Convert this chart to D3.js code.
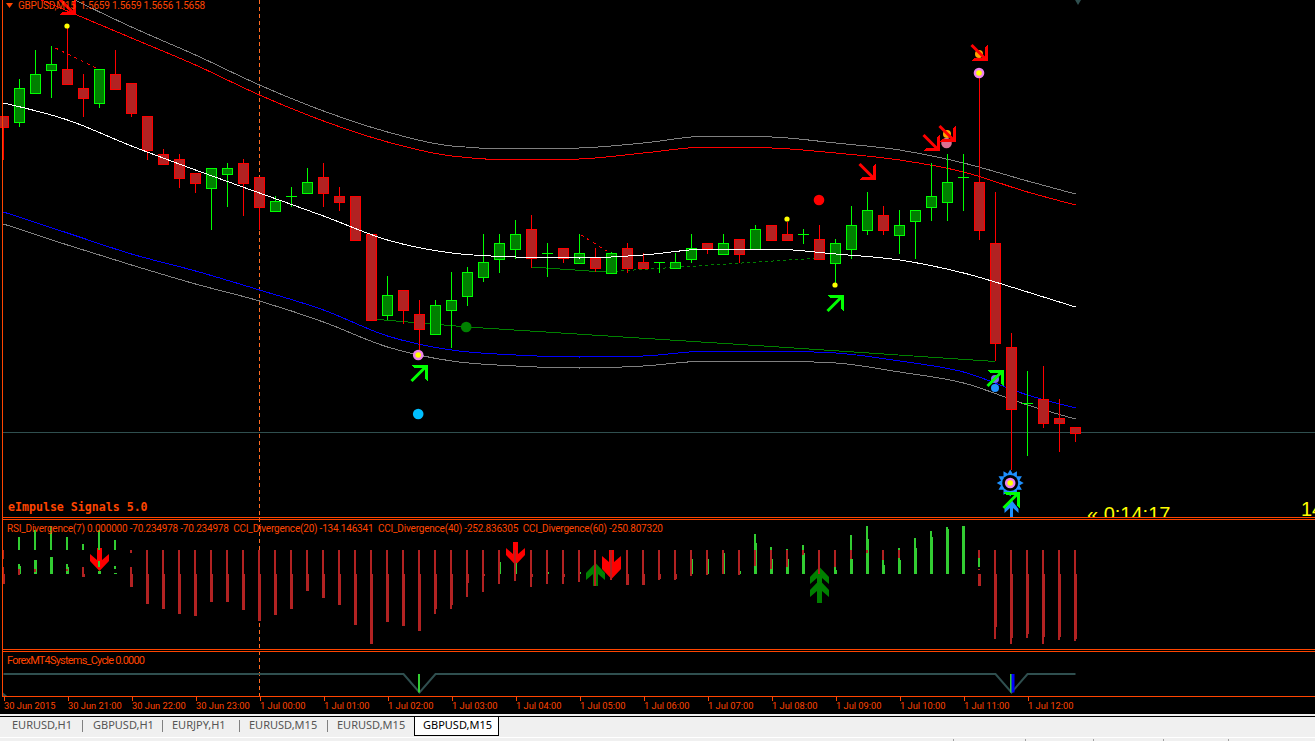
<!DOCTYPE html>
<html lang="en">
<head>
<meta charset="UTF-8">
<title>GBPUSD,M15</title>
<style>
	html, body { margin: 0; padding: 0; background: #f0f0f0; overflow: hidden; }
	svg { display: block; }
	text { white-space: pre; }
	.lbl { font-family: Roboto, sans-serif; font-size: 10px; fill: #ff4500; }
	.tick { font-family: Roboto, sans-serif; font-size: 9.3px; fill: #ff4500; }
	.tab { font-family: "Noto Sans", sans-serif; font-size: 11px; fill: #555; }
</style>
</head>
<body>
<svg id="chart" width="1315" height="741"></svg>
<script src="https://cdnjs.cloudflare.com/ajax/libs/d3/7.8.5/d3.min.js"></script>
<script>
// candles, 15 min bars from 30 Jun 20:00
let opens = [1.57214,1.57202,1.57260,1.57306,1.57308,1.57270,1.57240,1.57298,1.57280,1.57214,1.57138,1.57128,1.57100,1.57070,1.57098,1.57120,1.57092,1.57024,1.57054,1.57060,1.57092,1.57054,1.57054,1.56978,1.56816,1.56866,1.56818,1.56778,1.56826,1.56854,1.56892,1.56928,1.56948,1.56988,1.56940,1.56950,1.56920,1.56930,1.56900,1.56950,1.56922,1.56922,1.56910,1.56928,1.56960,1.56938,1.56968,1.56948,1.56996,1.56978,1.56978,1.56968,1.56920,1.56948,1.56986,1.57016,1.56976,1.57004,1.57032,1.57042,1.57092,1.57082,1.56960,1.56752,1.56640,1.56648,1.56610,1.56592]
let highs = [1.57214,1.57288,1.57346,1.57354,1.57390,1.57298,1.57308,1.57346,1.57280,1.57214,1.57148,1.57138,1.57100,1.57110,1.57120,1.57128,1.57092,1.57054,1.57072,1.57110,1.57120,1.57072,1.57054,1.56978,1.56894,1.56866,1.56846,1.56846,1.56902,1.56912,1.56978,1.56978,1.57006,1.57016,1.56960,1.56950,1.56978,1.56950,1.56942,1.56960,1.56940,1.56922,1.56940,1.56978,1.56960,1.56978,1.56968,1.56996,1.56996,1.57002,1.56988,1.56996,1.56968,1.57034,1.57062,1.57034,1.57026,1.57026,1.57120,1.57138,1.57138,1.57300,1.57062,1.56780,1.56704,1.56714,1.56648,1.56592]
let lows = [1.57126,1.57192,1.57260,1.57250,1.57278,1.57212,1.57230,1.57268,1.57212,1.57126,1.57118,1.57070,1.57060,1.56986,1.57032,1.57014,1.56986,1.57024,1.57032,1.57060,1.57032,1.57024,1.56966,1.56806,1.56806,1.56798,1.56746,1.56778,1.56750,1.56834,1.56882,1.56900,1.56928,1.56910,1.56892,1.56920,1.56920,1.56902,1.56900,1.56900,1.56910,1.56900,1.56910,1.56920,1.56938,1.56938,1.56920,1.56948,1.56966,1.56966,1.56958,1.56928,1.56880,1.56928,1.56976,1.56976,1.56938,1.56928,1.57004,1.57004,1.57024,1.56966,1.56724,1.56506,1.56534,1.56590,1.56542,1.56562]
let closes = [1.57192,1.57270,1.57298,1.57318,1.57278,1.57250,1.57308,1.57268,1.57220,1.57146,1.57118,1.57090,1.57080,1.57110,1.57110,1.57080,1.57032,1.57044,1.57054,1.57082,1.57060,1.57042,1.56966,1.56806,1.56856,1.56826,1.56788,1.56836,1.56846,1.56902,1.56922,1.56960,1.56978,1.56930,1.56940,1.56930,1.56940,1.56910,1.56940,1.56910,1.56910,1.56922,1.56922,1.56950,1.56950,1.56960,1.56938,1.56988,1.56966,1.56966,1.56978,1.56928,1.56960,1.56996,1.57026,1.56986,1.56996,1.57026,1.57054,1.57082,1.57092,1.56986,1.56760,1.56628,1.56640,1.56600,1.56600,1.56580]

// moving averages and bands, read at every 4th bar
let bandBars = [0,4,8,12,16,20,24,28,32,36,40,44,48,52,56,60,64,67]
let whiteMa = [1.57240,1.57206,1.57154,1.57106,1.57060,1.57014,1.56966,1.56940,1.56932,1.56930,1.56936,1.56948,1.56948,1.56938,1.56926,1.56900,1.56862,1.56832]
let redBand = [1.57478,1.57424,1.57370,1.57316,1.57256,1.57204,1.57162,1.57134,1.57126,1.57128,1.57140,1.57152,1.57150,1.57140,1.57126,1.57102,1.57062,1.57036]
let grayUpper = [1.57526,1.57454,1.57392,1.57336,1.57276,1.57224,1.57182,1.57154,1.57148,1.57150,1.57160,1.57174,1.57172,1.57160,1.57146,1.57120,1.57084,1.57058]
let blueBand = [1.57022,1.56980,1.56938,1.56904,1.56866,1.56826,1.56774,1.56746,1.56736,1.56732,1.56734,1.56744,1.56744,1.56740,1.56724,1.56702,1.56656,1.56630]
let grayLower = [1.56998,1.56956,1.56916,1.56878,1.56844,1.56802,1.56752,1.56724,1.56714,1.56710,1.56714,1.56724,1.56724,1.56720,1.56702,1.56680,1.56636,1.56608]

// trend lines
let greenTrendBars = [23,29,48,62]
let greenTrend = [1.56808,1.56792,1.56753,1.56723]
let shortGreenBars = [33,37.5]
let shortGreen = [1.56912,1.56902]
let dashGreenBars = [37.5,51]
let dashGreen = [1.56902,1.56930]
let dashRedBars = [3.25,5.9]
let dashRed = [1.57350,1.57308]
let dashRed2Bars = [36.1,37.9]
let dashRed2 = [1.56976,1.56940]

// signal markers
let seArrowBars = [4,54,58,59,61]
let seArrowPrices = [1.57432,1.57102,1.57160,1.57178,1.57340]
let neArrowBars = [26,52,62,63]
let neArrowPrices = [1.56700,1.56840,1.56690,1.56446]
let yellowBars = [4,49,52]
let yellowPrices = [1.57394,1.57008,1.56876]
let violetBars = [25.95,61,62.95]
let violetPrices = [1.56736,1.57300,1.56480]
let orangeBars = [59,61]
let orangePrices = [1.57178,1.57338]

// indicator window 1: RSI around upper zero, CCI around lower zero
let rsiUp = [0,10.4,16,19.2,10.4,4.8,16,8,0,0,0,0,0,0,0,0,0,0,0,0,0,0,0,0,0,0,0,0,0,0,0,0,0,0,0,0,0,0,0,0,0,0,0,0,0,0,0,12.8,2.4,0.8,4,0,0,12,19.2,0,1.6,9.6,15.2,18.4,19.2,0,0,0,0,0,0,0]
let rsiDown = [-7.2,0,0,0,0,0,0,0,-2.4,-42.4,-47.2,-51.2,-52.8,-41.6,-41.6,-48,-56.8,-52,-47.2,-32.8,-38.4,-44,-60,-75.2,-57.6,-60.8,-64.8,-51.2,-47.2,-37.6,-33.6,-27.2,-24.8,-29.6,-27.2,-27.2,-25.6,-28.8,-24,-28,-28,-24,-24,-20.8,-20,-19.2,-20,-12.8,-15.2,-13.6,-4,-19.2,-13.6,-7.2,-2.4,-8,-6.4,0,0,0,0,-6.4,-71.2,-75.2,-70.4,-75.2,-72,-72.8]
let cciFast = [0,40,56,68,40,0,12,0,0,0,0,0,0,0,0,0,0,0,0,0,0,0,0,0,0,0,0,0,0,0,0,0,0,0,0,0,0,0,0,0,0,0,0,0,0,0,0,96,96,96,96,0,96,96,96,96,96,96,96,96,96,0,0,0,0,0,0,0]
let cciSlow = [-40,32,56,68,28,-12,12,4,-52,-120,-140,-160,-168,-112,-112,-144,-188,-164,-140,-68,-96,-124,-204,-280,-192,-208,-228,-140,-124,-36,-8,48,44,-12,8,-12,8,0,0,-44,-44,-20,-20,60,60,84,12,124,60,60,84,0,16,60,140,36,56,104,148,180,192,-48,-212,-256,-240,-252,-252,-260]
let redPieceBars = [0,1,2,4,5,8,61]
let redPieceTop = [28,20,20,20,28,28,20]
let redPieceBottom = [0,-4,8,12,0,0,16]
let greenPieceBars = [6,7,61]
let greenPieceTop = [52,32,64]
let greenPieceBottom = [28,20,28]
let downArrowBars = [6,32,38]
let downArrowTops = [1.6,6.4,0]
let downArrowCount = [1,1,2]
let upArrowBars = [37,51]
let upArrowBottoms = [-28.8,-42.4]
let upArrowCount = [1,2]

// indicator window 2
let cycleValues = [100,100,100,100,100,100,100,100,100,100,100,100,100,100,100,100,100,100,100,100,100,100,100,100,100,100,0,100,100,100,100,100,100,100,100,100,100,100,100,100,100,100,100,100,100,100,100,100,100,100,100,100,100,100,100,100,100,100,100,100,100,100,100,0,100,100,100,100]
let cycleGreenBars = [26,63]
let cycleBlueBars = [63]

// time axis
let tickBars = [0,4,8,12,16,20,24,28,32,36,40,44,48,52,56,60,64]
let tickLabels = ["30 Jun 2015","30 Jun 21:00","30 Jun 22:00","30 Jun 23:00","1 Jul 00:00","1 Jul 01:00","1 Jul 02:00","1 Jul 03:00","1 Jul 04:00","1 Jul 05:00","1 Jul 06:00","1 Jul 07:00","1 Jul 08:00","1 Jul 09:00","1 Jul 10:00","1 Jul 11:00","1 Jul 12:00"]
let separatorBar = 16

let tabNames = ["EURUSD,H1","GBPUSD,H1","EURJPY,H1","EURUSD,M15","EURUSD,M15","GBPUSD,M15"]
let tabStarts = [12,93,172,249,337,423]
let tabDividers = [82,162,239,327]
let statusDividers = [953,1025,1093,1163,1228]

let orange = "#ff4500"
let svg = d3.select("#chart")
let x = d3.scaleLinear().domain([0,67]).range([3,1075])
let y = d3.scaleLinear().domain([1.5658,1.5730]).range([433,73])
let yRsi = d3.scaleLinear().domain([0,-72]).range([550,640])
let yCci = d3.scaleLinear().domain([0,-260]).range([574,639])
let yCycle = d3.scaleLinear().domain([0,100]).range([692.5,674])

function px(v) { return Math.round(v) + 0.5 }

svg.append("rect").attr("width",1315).attr("height",714).attr("fill","#000")
svg.append("clipPath").attr("id","mainClip").append("rect").attr("width",1315).attr("height",517)

// separator behind everything
svg.append("line")
	.attr("x1",px(x(separatorBar))).attr("x2",px(x(separatorBar)))
	.attr("y1",0).attr("y2",697)
	.attr("stroke","#ff6a20").attr("stroke-dasharray","4 3")

let main = svg.append("g").attr("clip-path","url(#mainClip)")

// bid line
main.append("line").attr("x1",3).attr("x2",1315)
	.attr("y1",px(y(1.5658))-1).attr("y2",px(y(1.5658))-1)
	.attr("stroke","#2f4f4f").attr("shape-rendering","crispEdges")

function drawLine(g, bars, vals, scale, color, width, dash) {
	let line = d3.line().x(d => x(d[0]) + 0.5).y(d => scale(d[1]))
	if (bars.length > 4) line.curve(d3.curveMonotoneX)
	return g.append("path")
		.attr("d", line(d3.zip(bars, vals)))
		.attr("fill","none").attr("stroke",color).attr("stroke-width",width)
		.attr("stroke-dasharray",dash || null)
		.attr("shape-rendering","crispEdges")
}

drawLine(main, bandBars, grayUpper, y, "#808080", 1)
drawLine(main, bandBars, grayLower, y, "#808080", 1)
drawLine(main, bandBars, redBand, y, "#ff0000", 1)
drawLine(main, bandBars, blueBand, y, "#0000ff", 1)
drawLine(main, dashRedBars, dashRed, y, "#ff0000", 1, "3 4")
drawLine(main, dashRed2Bars, dashRed2, y, "#ff0000", 1, "3 4")
drawLine(main, greenTrendBars, greenTrend, y, "#008000", 1)
drawLine(main, shortGreenBars, shortGreen, y, "#008000", 1)
drawLine(main, dashGreenBars, dashGreen, y, "#008000", 1, "3 3")

// candles
let candles = d3.range(opens.length).map(i => ({i:i, o:opens[i], h:highs[i], l:lows[i], c:closes[i]}))
let candle = main.selectAll("g.candle").data(candles).enter().append("g")
	.attr("class","candle")
	.attr("shape-rendering","crispEdges")
	.attr("transform", d => "translate(" + x(d.i) + ",0)")
candle.append("line")
	.attr("x1",0.5).attr("x2",0.5)
	.attr("y1", d => y(d.h)).attr("y2", d => y(d.l))
	.attr("stroke", d => d.c >= d.o ? "#00ff00" : "#ff0000")
candle.filter(d => d.c != d.o).append("rect")
	.attr("x",-4.5).attr("width",10)
	.attr("y", d => px(y(Math.max(d.o,d.c))))
	.attr("height", d => Math.round(Math.abs(y(d.o)-y(d.c))))
	.attr("fill", d => d.c > d.o ? "#008000" : "#b22222")
	.attr("stroke", d => d.c > d.o ? "#00ff00" : "#ff0000")
candle.filter(d => d.c == d.o).append("line")
	.attr("x1",-5).attr("x2",6)
	.attr("y1", d => px(y(d.c))).attr("y2", d => px(y(d.c)))
	.attr("stroke","#00ff00")

drawLine(main, bandBars, whiteMa, y, "#ffffff", 1)

// markers
function dots(bars, prices, color, r) {
	main.selectAll(null).data(d3.zip(bars,prices)).enter().append("circle")
		.attr("cx", d => x(d[0])).attr("cy", d => y(d[1]))
		.attr("r", r).attr("fill", color)
}
dots(yellowBars, yellowPrices, "#ffff00", 2.6)
dots([25.95], [1.56618], "#00bfff", 5.3)
dots([28.95], [1.56792], "#008000", 5.3)
dots([51], [1.57046], "#ff0000", 5.3)
dots(orangeBars, orangePrices, "#ffa500", 4)
dots([58.97], [1.57160], "#db7093", 5.3)
dots([62], [1.56688], "#7b68ee", 4)
dots([62], [1.56670], "#1e90ff", 4)

// blue sun below the last spike
let sunOuter = d3.range(24).map(k => [k*Math.PI/12, k%2 ? 9.5 : 13.5])
main.append("path")
	.attr("d", d3.lineRadial().curve(d3.curveLinearClosed)(sunOuter))
	.attr("transform","translate(" + x(62.95) + "," + y(1.56480) + ")")
	.attr("fill","#1e90ff")
dots([62.95],[1.56480],"#000",8)
dots(violetBars, violetPrices, "#ee82ee", 5.3)
dots(violetBars, violetPrices, "#ffff00", 2.8)

// blue arrow on the window edge
main.append("path")
	.attr("d","M-1.5,18V8L-7,13L-7,9L0,0L7,9L7,13L1.5,8V18Z")
	.attr("transform","translate(" + (x(63)+0.5) + "," + y(1.56446) + ")")
	.attr("fill","#1e90ff")

let headPath = "M8,-8L8,8L-8,8L-5,5L5,5L5,-5Z"
function wingArrow(bars, prices, color, flip) {
	let g = main.selectAll(null).data(d3.zip(bars,prices)).enter().append("g")
		.attr("transform", d => "translate(" + (x(d[0])+0.5) + "," + y(d[1]) + ")" + (flip ? " scale(1,-1)" : ""))
		.attr("shape-rendering","crispEdges")
	g.append("path").attr("d",headPath).attr("fill",color)
	g.append("path").attr("d","M-8,-8L6,6").attr("stroke",color).attr("stroke-width",3).attr("shape-rendering","auto")
}
wingArrow(seArrowBars, seArrowPrices, "#ff0000", false)
wingArrow(neArrowBars, neArrowPrices, "#00ff00", true)

main.append("path").attr("d",d3.symbol(d3.symbolDiamond,30)())
	.attr("transform","translate(" + x(67.19) + "," + y(1.57446) + ")")
	.attr("fill","#2f4f4f")

// indicator window 1
let sub1 = svg.append("g")
let chevron = "M-2.5,0L2.5,0L2.5,12L9.5,6L9.5,13L0,23L-9.5,13L-9.5,6L-2.5,12Z"
function bigArrow(bars, ends, counts, color, up, gap) {
	bars.forEach((b,k) => {
		for (let n = 0; n < counts[k]; n++) {
			let off = n * gap
			sub1.append("path").attr("d",chevron).attr("fill",color)
				.attr("transform", "translate(" + (x(b)+0.5) + "," + (yRsi(ends[k]) + (up ? -off : off)) + ")" + (up ? " scale(1,-1)" : ""))
		}
	})
}
bigArrow(downArrowBars, downArrowTops, downArrowCount, "#ff0000", false, 6)
bigArrow(upArrowBars, upArrowBottoms, upArrowCount, "#008000", true, 13)

function hist(vals, scale, offset, width, posColor, negColor) {
	sub1.selectAll(null).data(vals.map((v,i) => [i,v]).filter(d => d[1] != 0)).enter().append("rect")
		.attr("x", d => x(d[0]) + offset).attr("width", width)
		.attr("y", d => Math.min(scale(d[1]), scale(0)))
		.attr("height", d => Math.abs(scale(d[1]) - scale(0)))
		.attr("fill", d => d[1] > 0 ? posColor : negColor)
		.attr("shape-rendering","crispEdges")
}
hist(cciSlow, yCci, -1, 3, "#32cd32", "#b22222")
hist(cciFast, yCci, -1, 2, "#32cd32", "#b22222")
hist(rsiDown, yRsi, -1, 2, "#32cd32", "#b22222")
hist(rsiUp, yRsi, -1, 2, "#32cd32", "#b22222")

function pieces(bars, tops, bottoms, color) {
	sub1.selectAll(null).data(bars.map((b,k) => [b,tops[k],bottoms[k]])).enter().append("rect")
		.attr("x", d => x(d[0]) - 1).attr("width", 2)
		.attr("y", d => yCci(d[1])).attr("height", d => yCci(d[2]) - yCci(d[1]))
		.attr("fill", color).attr("shape-rendering","crispEdges")
}
pieces(greenPieceBars, greenPieceTop, greenPieceBottom, "#32cd32")
pieces(redPieceBars, redPieceTop, redPieceBottom, "#b22222")

// indicator window 2
let sub2 = svg.append("g")
sub2.append("path").attr("fill","#2f4f4f")
	.attr("d","M" + x(0) + "," + yCycle(0) + "L" + x(0.33) + ",697L" + x(0) + ",697Z")
sub2.append("path")
	.attr("d", d3.line().x((d,i) => x(i)+0.5).y(d => yCycle(d))(cycleValues))
	.attr("fill","none").attr("stroke","#2f4f4f").attr("stroke-width",2)
sub2.selectAll(null).data(cycleGreenBars).enter().append("rect")
	.attr("x", d => x(d) - 1).attr("width",2)
	.attr("y", yCycle(100)).attr("height", yCycle(0)-yCycle(100)).attr("fill","#32cd32")
sub2.selectAll(null).data(cycleBlueBars).enter().append("rect")
	.attr("x", d => x(d) + 0.5).attr("width",3)
	.attr("y", yCycle(100)).attr("height", yCycle(0)-yCycle(100)).attr("fill","#0000ff")

// window frames
let frameYs = [517,519,649,651,696]
svg.selectAll("line.frame").data(frameYs).enter().append("line")
	.attr("class","frame")
	.attr("x1",2).attr("x2",1315)
	.attr("y1", d => d + 0.5).attr("y2", d => d + 0.5)
	.attr("stroke",orange).attr("shape-rendering","crispEdges")
svg.append("line").attr("x1",2.5).attr("x2",2.5).attr("y1",0).attr("y2",697)
	.attr("stroke",orange).attr("shape-rendering","crispEdges")

// labels
svg.append("path").attr("d","M6,3L13,3L9.5,8Z").attr("fill",orange)
svg.append("text").attr("class","lbl").attr("x",18).attr("y",9).attr("textLength",187).text("GBPUSD,M15  1.5659 1.5659 1.5656 1.5658")
svg.append("text").attr("x",8).attr("y",511)
	.attr("font-family","'DejaVu Sans Mono', monospace").attr("font-weight","bold").attr("font-size",11.6)
	.attr("fill",orange).text("eImpulse Signals 5.0")
svg.append("text").attr("class","lbl").attr("x",7).attr("y",532).attr("textLength",656)
	.text("RSI_Divergence(7) 0.000000 -70.234978 -70.234978  CCI_Divergence(20) -134.146341  CCI_Divergence(40) -252.836305  CCI_Divergence(60) -250.807320")
svg.append("text").attr("class","lbl").attr("x",7).attr("y",664).attr("textLength",138).style("font-size","11px").text("ForexMT4Systems_Cycle 0.0000")
main.append("text").attr("x",1087).attr("y",521)
	.attr("font-family","'Liberation Sans', sans-serif").attr("font-size",20)
	.attr("fill","#ffff00").text("« 0:14:17")
main.append("text").attr("x",1301).attr("y",516)
	.attr("font-family","'Liberation Sans', sans-serif").attr("font-size",20)
	.attr("fill","#ffff00").text("14")

// time axis
let axis = d3.axisBottom(x).tickValues(tickBars).tickFormat((d,i) => tickLabels[i]).tickSize(4)
let axisG = svg.append("g").attr("transform","translate(0.5,697)").call(axis)
axisG.select(".domain").remove()
axisG.selectAll("line").attr("stroke",orange).attr("shape-rendering","crispEdges")
axisG.selectAll("text").attr("class","tick").attr("text-anchor","start").attr("x",0).attr("y",5).attr("dy","0.71em")
axisG.attr("font-family",null).attr("font-size",null)

// tab bar
let tabs = svg.append("g").attr("shape-rendering","crispEdges")
tabs.append("rect").attr("y",714).attr("width",1315).attr("height",27).attr("fill","#f0f0f0")
tabs.append("line").attr("x1",0).attr("x2",1315).attr("y1",716.5).attr("y2",716.5).attr("stroke","#000")
tabs.append("rect").attr("x",414.5).attr("y",716.5).attr("width",84).attr("height",19).attr("fill","#fff").attr("stroke","#000")
tabs.selectAll("line.div").data(tabDividers).enter().append("line").attr("class","div")
	.attr("x1",d => d+0.5).attr("x2",d => d+0.5).attr("y1",720).attr("y2",732).attr("stroke","#808080")
tabs.append("rect").attr("y",737).attr("width",1315).attr("height",1).attr("fill","#fff")
tabs.selectAll("line.stat").data(statusDividers).enter().append("line").attr("class","stat")
	.attr("x1",d => d+0.5).attr("x2",d => d+0.5).attr("y1",739).attr("y2",741).attr("stroke","#a0a0a0")
svg.selectAll("text.tab").data(tabNames).enter().append("text").attr("class","tab")
	.attr("x",(d,i) => tabStarts[i]).attr("y",729)
	.style("fill",(d,i) => i == 5 ? "#000" : "#555")
	.text(d => d)
</script>
</body>
</html>
